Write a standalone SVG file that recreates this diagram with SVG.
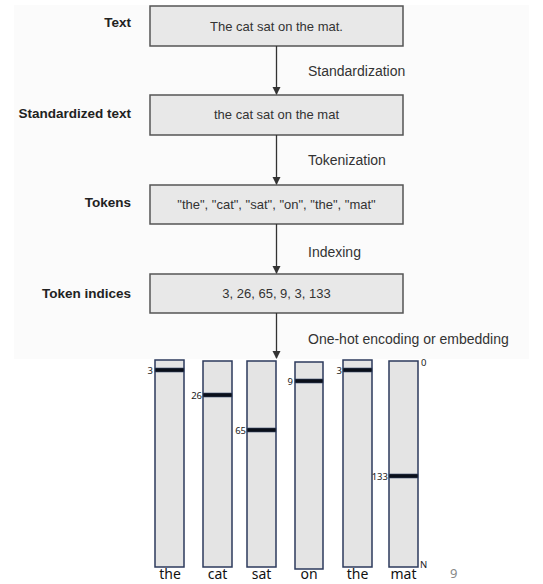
<svg xmlns="http://www.w3.org/2000/svg" width="543" height="584" viewBox="0 0 543 584">
<defs>
<marker id="ah" markerWidth="8" markerHeight="10" refX="7" refY="4" orient="auto" markerUnits="userSpaceOnUse" viewBox="0 0 8 8">
<path d="M0,0 L8,4 L0,8 Z" fill="#333"/>
</marker>
</defs>
<style>
.box{fill:#e8e8e8;stroke:#555;stroke-width:1.5}
.bt{font-family:"Liberation Sans",Arial,sans-serif;font-size:13px;fill:#333;text-anchor:middle}
.lb{font-family:"Liberation Sans",Arial,sans-serif;font-size:13.5px;font-weight:bold;fill:#222;text-anchor:end}
.st{font-family:"Liberation Sans",Arial,sans-serif;font-size:14px;fill:#333}
.conn{stroke:#333;stroke-width:1.3;fill:none}
.col{fill:#e4e4e4;stroke:#2c3a5c;stroke-width:1.5}
.bar{fill:#0a0f1a;stroke:#3a4a6a;stroke-width:0.6}
.num{font-family:"Noto Sans",Calibri,sans-serif;font-size:9.5px;fill:#222}
.wd{font-family:"Noto Sans",Calibri,sans-serif;font-size:14px;fill:#111;text-anchor:middle}
</style>
<rect x="14" y="5" width="515" height="354" fill="#fbfbfb"/>
<g id="n-text">
<rect class="box" x="150" y="6" width="253" height="40"/>
<text class="lb" x="131" y="27">Text</text>
<text class="bt" x="276.5" y="31">The cat sat on the mat.</text>
</g>
<g id="n-std">
<rect class="box" x="150" y="95" width="253" height="40"/>
<text class="lb" x="131" y="118">Standardized text</text>
<text class="bt" x="276.5" y="119">the cat sat on the mat</text>
</g>
<g id="n-tokens">
<rect class="box" x="150" y="185" width="253" height="39"/>
<text class="lb" x="131" y="207">Tokens</text>
<text class="bt" x="276.5" y="209">"the", "cat", "sat", "on", "the", "mat"</text>
</g>
<g id="n-indices">
<rect class="box" x="150" y="274" width="253" height="39"/>
<text class="lb" x="131" y="298">Token indices</text>
<text class="bt" x="276.5" y="298">3, 26, 65, 9, 3, 133</text>
</g>
<g id="connectors">
<line class="conn" x1="276.5" y1="46" x2="276.5" y2="94" marker-end="url(#ah)"/>
<line class="conn" x1="276.5" y1="135" x2="276.5" y2="184" marker-end="url(#ah)"/>
<line class="conn" x1="276.5" y1="224" x2="276.5" y2="273" marker-end="url(#ah)"/>
<line class="conn" x1="276.5" y1="313" x2="276.5" y2="358" marker-end="url(#ah)"/>
<text class="st" x="308" y="76">Standardization</text>
<text class="st" x="308" y="165">Tokenization</text>
<text class="st" x="308" y="257">Indexing</text>
<text class="st" x="308" y="344">One-hot encoding or embedding</text>
</g>
<g id="n-vectors">
<g id="v-the1">
<rect class="col" x="155" y="360" width="29" height="207"/>
<rect class="bar" x="155" y="368" width="29" height="4"/>
<text class="num" x="153" y="374" text-anchor="end">3</text>
<text class="wd" x="170" y="579">the</text>
</g>
<g id="v-cat">
<rect class="col" x="203" y="361" width="29" height="206"/>
<rect class="bar" x="203" y="393" width="29" height="4"/>
<text class="num" x="202" y="399" text-anchor="end">26</text>
<text class="wd" x="217.5" y="579">cat</text>
</g>
<g id="v-sat">
<rect class="col" x="247" y="361" width="29" height="206"/>
<rect class="bar" x="247" y="428" width="29" height="4"/>
<text class="num" x="246" y="434" text-anchor="end">65</text>
<text class="wd" x="261.5" y="579">sat</text>
</g>
<g id="v-on">
<rect class="col" x="295" y="362" width="28" height="207"/>
<rect class="bar" x="295" y="379" width="28" height="4"/>
<text class="num" x="293" y="385" text-anchor="end">9</text>
<text class="wd" x="309" y="579">on</text>
</g>
<g id="v-the2">
<rect class="col" x="343" y="360" width="29" height="207"/>
<rect class="bar" x="343" y="368" width="29" height="4"/>
<text class="num" x="342" y="374" text-anchor="end">3</text>
<text class="wd" x="357.5" y="579">the</text>
</g>
<g id="v-mat">
<rect class="col" x="389" y="361" width="29" height="206"/>
<rect class="bar" x="389" y="474" width="29" height="4"/>
<text class="num" x="388" y="480" text-anchor="end">133</text>
<text class="wd" x="403.5" y="579">mat</text>
</g>
<text class="num" x="421" y="366">0</text>
<text class="num" x="420" y="568">N</text>
</g>
<text x="450" y="578" font-family="Noto Sans, Calibri, sans-serif" font-size="13" fill="#888">9</text>
</svg>
